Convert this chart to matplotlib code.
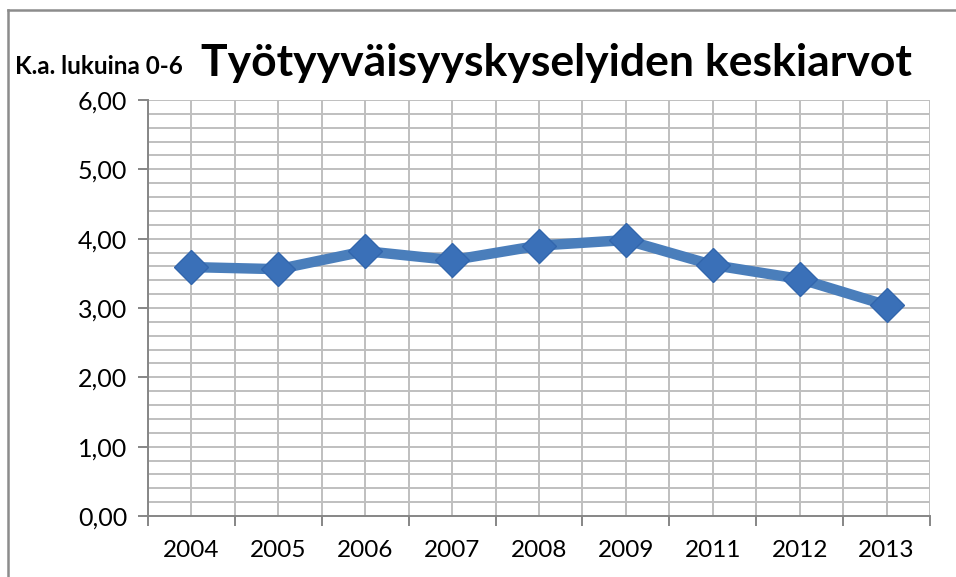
import numpy as np
import matplotlib.pyplot as plt
from matplotlib.ticker import FixedLocator, FuncFormatter, MultipleLocator

years = ["2004", "2005", "2006", "2007", "2008", "2009", "2011", "2012", "2013"]
averages = [3.59, 3.56, 3.82, 3.69, 3.90, 3.98, 3.62, 3.42, 3.04]

plt.rcParams['font.family'] = ['Lato', 'DejaVu Sans']

fig = plt.figure(figsize=(9.56, 5.77), dpi=100)
ax = fig.add_axes([148 / 956, 61 / 577, 782 / 956, 416 / 577])

grid_c = '#bfbfbf'
x = np.arange(len(years))

ax.set_xlim(-0.5, len(years) - 0.5)
ax.set_ylim(0, 6)

# gridlines: horizontal every 0.2, vertical at centres and boundaries
for yv in np.arange(0.2, 6.01, 0.2):
    ax.axhline(yv, color=grid_c, lw=1.4, zorder=1)
for xv in np.arange(-0.5, len(years), 0.5):
    ax.axvline(xv, color=grid_c, lw=1.4, zorder=1)

ax.plot(x, averages, color='#4a7ebb', lw=7.5, zorder=3)
ax.plot(x, averages, ls='none', marker='D', ms=17, mfc='#3a70b8', mec='#3266ad', mew=1, zorder=4)

ax.yaxis.set_major_locator(MultipleLocator(1))
ax.yaxis.set_major_formatter(FuncFormatter(lambda v, p: f"{v:.2f}".replace('.', ',')))
ax.set_xticks(x)
ax.set_xticklabels(years)
ax.xaxis.set_minor_locator(FixedLocator(np.arange(-0.5, len(years), 1.0)))
ax.tick_params(axis='x', which='major', length=0, pad=17, labelsize=17.5)
ax.tick_params(axis='x', which='minor', length=7, width=1.4, color='#868686', direction='out')
ax.tick_params(axis='y', length=7, width=1.4, color='#868686', direction='out', pad=8, labelsize=18)

for s in ['top', 'right']:
    ax.spines[s].set_visible(False)
for s in ['left', 'bottom']:
    ax.spines[s].set_color('#868686')
    ax.spines[s].set_linewidth(1.4)
    ax.spines[s].set_zorder(2)

fig.text(556 / 956, 1 - 63 / 577, "Työtyyväisyyskyselyiden keskiarvot", ha='center', va='center',
         fontsize=32, fontweight='bold')
fig.text(15 / 956, 1 - 66 / 577, "K.a. lukuina 0-6", ha='left', va='center',
         fontsize=17.5, fontweight='bold')

# outer chart border (left and top only visible)
fig.add_artist(plt.Line2D([8 / 956, 8 / 956], [0, 1 - 10 / 577], transform=fig.transFigure,
                          color='#8c8c8c', lw=1.8))
fig.add_artist(plt.Line2D([8 / 956, 1], [1 - 10 / 577, 1 - 10 / 577], transform=fig.transFigure,
                          color='#8c8c8c', lw=1.8))

fig.savefig('out.png', dpi=100)
